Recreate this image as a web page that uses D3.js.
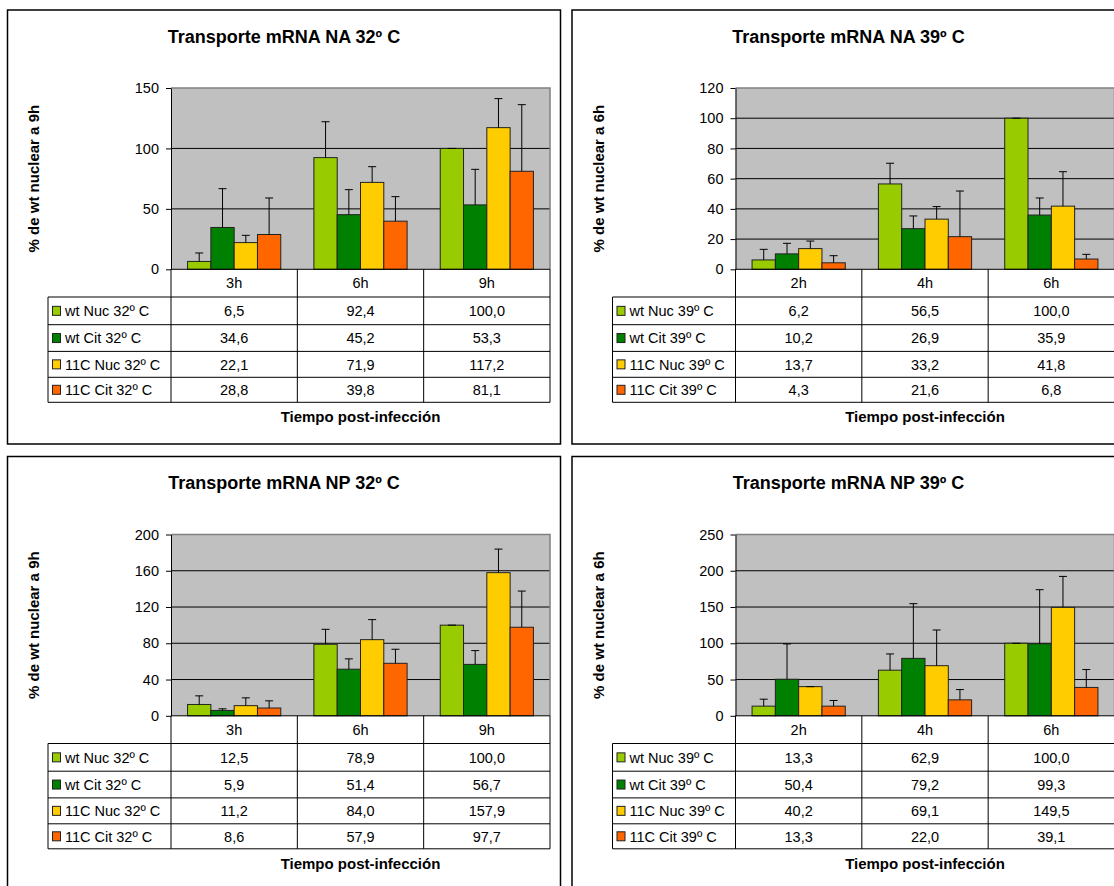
<!DOCTYPE html>
<html>
<head>
<meta charset="utf-8">
<script src="https://cdn.jsdelivr.net/npm/d3@7"></script>
<style>
  html, body { margin: 0; padding: 0; background: #fff; }
  svg { display: block; font-family: "Liberation Sans", Arial, sans-serif; }
</style>
</head>
<body>
<svg id="chart" width="1114" height="886"></svg>
<script>
// ---- data ----
const categories32 = ["3h", "6h", "9h"];
const categories39 = ["2h", "4h", "6h"];
const seriesNames32 = ["wt Nuc 32º C", "wt Cit 32º C", "11C Nuc 32º C", "11C Cit 32º C"];
const seriesNames39 = ["wt Nuc 39º C", "wt Cit 39º C", "11C Nuc 39º C", "11C Cit 39º C"];
const seriesColors = ["#99CC00", "#008000", "#FFCC00", "#FF6600"];

// Transporte mRNA NA 32º C (rows: series, columns: time points)
const valuesNA32 = [[6.5, 92.4, 100.0], [34.6, 45.2, 53.3], [22.1, 71.9, 117.2], [28.8, 39.8, 81.1]];
const errorsNA32 = [[7.0, 29.7, 0], [32.1, 20.7, 29.4], [6.0, 13.0, 24.0], [30.2, 20.3, 55.1]];
const ticksNA32 = [0, 50, 100, 150];

// Transporte mRNA NA 39º C
const valuesNA39 = [[6.2, 56.5, 100.0], [10.2, 26.9, 35.9], [13.7, 33.2, 41.8], [4.3, 21.6, 6.8]];
const errorsNA39 = [[7.0, 13.7, 0], [7.0, 8.4, 11.3], [5.0, 8.3, 22.8], [4.7, 30.2, 3.1]];
const ticksNA39 = [0, 20, 40, 60, 80, 100, 120];

// Transporte mRNA NP 32º C
const valuesNP32 = [[12.5, 78.9, 100.0], [5.9, 51.4, 56.7], [11.2, 84.0, 157.9], [8.6, 57.9, 97.7]];
const errorsNP32 = [[9.5, 16.5, 0], [1.8, 11.4, 15.2], [8.6, 22.1, 26.0], [7.9, 15.5, 39.9]];
const ticksNP32 = [0, 40, 80, 120, 160, 200];

// Transporte mRNA NP 39º C
const valuesNP39 = [[13.3, 62.9, 100.0], [50.4, 79.2, 99.3], [40.2, 69.1, 149.5], [13.3, 22.0, 39.1]];
const errorsNP39 = [[9.6, 22.4, 0], [48.7, 75.4, 74.6], [0, 49.2, 42.7], [7.8, 14.2, 24.7]];
const ticksNP39 = [0, 50, 100, 150, 200, 250];

const xTitle = "Tiempo post-infección";

const panels = [
  { title: "Transporte mRNA NA 32º C", yTitle: "% de wt nuclear a 9h", cats: categories32, names: seriesNames32,
    values: valuesNA32, errors: errorsNA32, ticks: ticksNA32, x: 7.5, y: 10 },
  { title: "Transporte mRNA NA 39º C", yTitle: "% de wt nuclear a 6h", cats: categories39, names: seriesNames39,
    values: valuesNA39, errors: errorsNA39, ticks: ticksNA39, x: 572, y: 10 },
  { title: "Transporte mRNA NP 32º C", yTitle: "% de wt nuclear a 9h", cats: categories32, names: seriesNames32,
    values: valuesNP32, errors: errorsNP32, ticks: ticksNP32, x: 7.5, y: 456.5 },
  { title: "Transporte mRNA NP 39º C", yTitle: "% de wt nuclear a 6h", cats: categories39, names: seriesNames39,
    values: valuesNP39, errors: errorsNP39, ticks: ticksNP39, x: 572, y: 456.5 }
];

// ---- layout (relative to each panel's frame) ----
const W = 553, H = 434;
const plotL = 163.5, plotR = 542.5, plotT = 78, plotB = 259.3;
const legendL = 40.5;
const rowEdges = [0, 27.7, 55.4, 82.1, 108, 133]; // below the zero line
const textSize = 14.5;
const fmt = v => v.toFixed(1).replace(".", ",");

const svg = d3.select("#chart");
svg.append("rect").attr("width", 1114).attr("height", 886).attr("fill", "#fff");

panels.forEach(p => {
  const g = svg.append("g").attr("transform", `translate(${p.x},${p.y})`);

  // frame
  g.append("rect").attr("x", 0).attr("y", 0).attr("width", W).attr("height", H)
    .attr("fill", "#fff").attr("stroke", "#000").attr("stroke-width", 1.5);

  // title
  g.append("text").attr("x", W / 2).attr("y", 32.5).attr("text-anchor", "middle")
    .attr("font-size", 18).attr("font-weight", "bold").text(p.title);

  const ymax = p.ticks[p.ticks.length - 1];
  const y = d3.scaleLinear().domain([0, ymax]).range([plotB, plotT]);
  const x0 = d3.scaleBand().domain(p.cats).range([plotL, plotR]).paddingInner(0).paddingOuter(0);
  const x1 = d3.scaleBand().domain(d3.range(p.names.length)).range([0, x0.bandwidth()])
    .paddingInner(0).paddingOuter(0.711);

  // plot area
  g.append("rect").attr("x", plotL).attr("y", plotT).attr("width", plotR - plotL).attr("height", plotB - plotT)
    .attr("fill", "#C0C0C0");

  // gridlines
  g.append("g").selectAll("line").data(p.ticks.filter(t => t > 0 && t < ymax)).join("line")
    .attr("x1", plotL).attr("x2", plotR).attr("y1", d => y(d)).attr("y2", d => y(d))
    .attr("stroke", "#000").attr("stroke-width", 1);

  // plot border (top/right)
  g.append("path").attr("d", `M${plotL},${plotT}H${plotR}V${plotB}`)
    .attr("fill", "none").attr("stroke", "#808080").attr("stroke-width", 1.5);

  // bars
  const bars = [];
  p.values.forEach((row, si) => row.forEach((v, ci) => bars.push({ si, ci, v, e: p.errors[si][ci] })));
  const bx = d => x0(p.cats[d.ci]) + x1(d.si);
  g.append("g").selectAll("rect").data(bars).join("rect")
    .attr("x", bx).attr("y", d => y(d.v)).attr("width", x1.bandwidth()).attr("height", d => plotB - y(d.v))
    .attr("fill", d => seriesColors[d.si]).attr("stroke", "#222").attr("stroke-width", 1);

  // error bars (plus direction)
  const eg = g.append("g").attr("stroke", "#000").attr("stroke-width", 1);
  bars.forEach(d => {
    const cx = bx(d) + x1.bandwidth() / 2;
    const yt = y(d.v + d.e);
    eg.append("line").attr("x1", cx).attr("x2", cx).attr("y1", y(d.v)).attr("y2", yt);
    eg.append("line").attr("x1", cx - 4).attr("x2", cx + 4).attr("y1", yt).attr("y2", yt);
  });

  // y axis
  const ax = g.append("g").attr("transform", `translate(${plotL},0)`)
    .call(d3.axisLeft(y).tickValues(p.ticks).tickSize(5).tickSizeOuter(0).tickPadding(7).tickFormat(d3.format("d")));
  ax.select(".domain").attr("stroke", "#000");
  ax.selectAll(".tick line").attr("stroke", "#000");
  ax.selectAll("text").attr("font-size", textSize).attr("fill", "#000").attr("font-family", "Liberation Sans, Arial, sans-serif");

  // y title
  g.append("text")
    .attr("transform", `translate(26.5,${(plotT + plotB) / 2}) rotate(-90)`)
    .attr("text-anchor", "middle").attr("dy", "0.35em")
    .attr("font-size", 15).attr("font-weight", "bold").text(p.yTitle);

  // data table
  const tg = g.append("g").attr("stroke", "#000").attr("stroke-width", 1);
  const rowY = i => plotB + rowEdges[i];
  tg.append("line").attr("x1", plotL).attr("x2", plotR).attr("y1", plotB).attr("y2", plotB);
  for (let i = 1; i < rowEdges.length; i++) {
    tg.append("line").attr("x1", legendL).attr("x2", plotR).attr("y1", rowY(i)).attr("y2", rowY(i));
  }
  const colEdges = p.cats.map(c => x0(c)).concat([plotR]);
  colEdges.forEach(cx => tg.append("line").attr("x1", cx).attr("x2", cx).attr("y1", plotB).attr("y2", rowY(rowEdges.length - 1)));
  tg.append("line").attr("x1", legendL).attr("x2", legendL).attr("y1", rowY(1)).attr("y2", rowY(rowEdges.length - 1));

  // category labels
  g.append("g").selectAll("text").data(p.cats).join("text")
    .attr("x", c => x0(c) + x0.bandwidth() / 2).attr("y", (rowY(0) + rowY(1)) / 2).attr("dy", "0.36em")
    .attr("text-anchor", "middle").attr("font-size", textSize).text(c => c);

  // value cells
  g.append("g").selectAll("text").data(bars).join("text")
    .attr("x", d => x0(p.cats[d.ci]) + x0.bandwidth() / 2)
    .attr("y", d => (rowY(d.si + 1) + rowY(d.si + 2)) / 2).attr("dy", "0.36em")
    .attr("text-anchor", "middle").attr("font-size", textSize).text(d => fmt(d.v));

  // legend keys and names
  p.names.forEach((n, si) => {
    const cy = (rowY(si + 1) + rowY(si + 2)) / 2;
    g.append("rect").attr("x", legendL + 4.5).attr("y", cy - 4.5).attr("width", 8).attr("height", 9)
      .attr("fill", seriesColors[si]).attr("stroke", "#222").attr("stroke-width", 1);
    g.append("text").attr("x", legendL + 17).attr("y", cy).attr("dy", "0.36em")
      .attr("font-size", textSize).text(n);
  });

  // x title
  g.append("text").attr("x", (plotL + plotR) / 2).attr("y", 412).attr("text-anchor", "middle")
    .attr("font-size", 15).attr("font-weight", "bold").text(xTitle);
});
</script>
</body>
</html>
